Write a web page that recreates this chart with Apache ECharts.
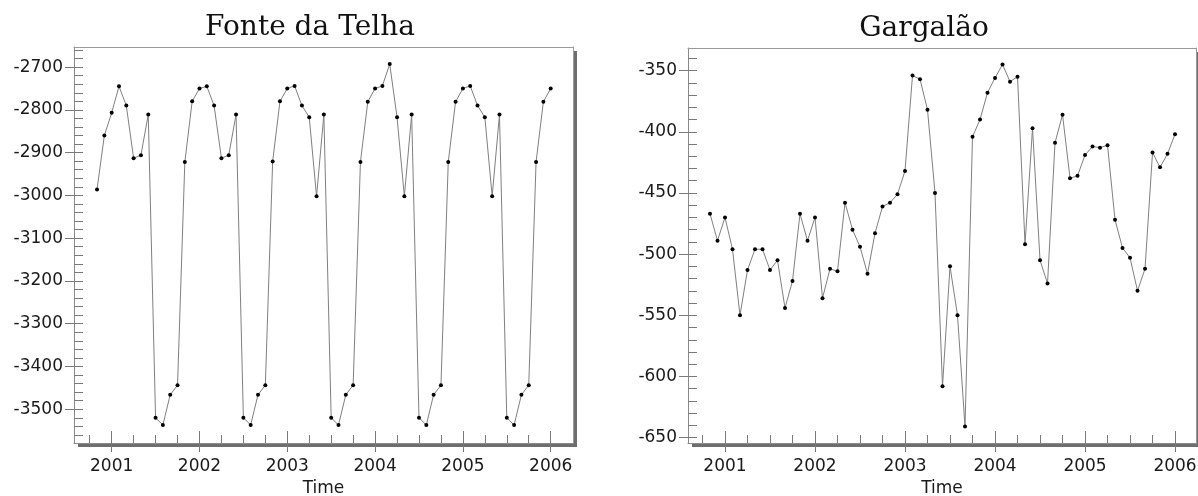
<!DOCTYPE html>
<html><head><meta charset="utf-8">
<script src="https://cdn.jsdelivr.net/npm/echarts@6/dist/echarts.min.js"></script>
<style>html,body{margin:0;padding:0;background:#fff}#c{width:1198px;height:496px}</style>
</head><body><div id="c"></div>
<script>
const months = [
  '2000-11','2000-12',
  '2001-01','2001-02','2001-03','2001-04','2001-05','2001-06','2001-07','2001-08','2001-09','2001-10','2001-11','2001-12',
  '2002-01','2002-02','2002-03','2002-04','2002-05','2002-06','2002-07','2002-08','2002-09','2002-10','2002-11','2002-12',
  '2003-01','2003-02','2003-03','2003-04','2003-05','2003-06','2003-07','2003-08','2003-09','2003-10','2003-11','2003-12',
  '2004-01','2004-02','2004-03','2004-04','2004-05','2004-06','2004-07','2004-08','2004-09','2004-10','2004-11','2004-12',
  '2005-01','2005-02','2005-03','2005-04','2005-05','2005-06','2005-07','2005-08','2005-09','2005-10','2005-11','2005-12',
  '2006-01'
];
const fonteTelha = [
  -2986,-2860,-2807,-2745,-2790,-2913,-2906,-2811,-3520,-3537,-3466,-3444,
  -2922,-2780,-2750,-2745,-2790,-2913,-2906,-2811,-3520,-3537,-3466,-3444,
  -2921,-2780,-2750,-2744,-2790,-2817,-3002,-2811,-3520,-3537,-3466,-3444,
  -2922,-2781,-2750,-2744,-2693,-2817,-3002,-2811,-3520,-3537,-3466,-3444,
  -2922,-2781,-2750,-2744,-2790,-2817,-3002,-2811,-3520,-3537,-3466,-3444,
  -2922,-2781,-2750
];
const gargalao = [
  -467,-489,-470,-496,-550,-513,-496,-496,-513,-505,-544,-522,
  -467,-489,-470,-536,-512,-514,-458,-480,-494,-516,-483,-461,
  -458,-451,-432,-354,-357,-382,-450,-608,-510,-550,-641,-404,
  -390,-368,-356,-345,-359,-355,-492,-397,-505,-524,-409,-386,
  -438,-436,-419,-412,-413,-411,-472,-495,-503,-530,-512,-417,
  -429,-418,-402
];
const yearTicks = [2001,2002,2003,2004,2005,2006];
const quarterTicks = [2000.75,2001.25,2001.5,2001.75,2002.25,2002.5,2002.75,2003.25,2003.5,2003.75,
  2004.25,2004.5,2004.75,2005.25,2005.5,2005.75];
const fonteYTicks = [-3500,-3400,-3300,-3200,-3100,-3000,-2900,-2800,-2700];
const gargalaoYTicks = [-650,-600,-550,-500,-450,-400,-350];
const fonteMinorStep = 20, gargalaoMinorStep = 10;

function toYear(s){ const p = s.split('-'); return +p[0] + (+p[1]-1)/12; }
function minorList(lo, hi, step){ const a=[]; for(let v=lo; v<=hi+1e-9; v+=step) a.push(v); return a; }

const LBL = {fontFamily:'DejaVu Sans', fontSize:17, color:'#1a1a1a'};
const AX = '#8a8a8a', TK = '#7a7a7a', FRAME = '#9a9a9a';

function frameAxis(g, min, max, pos){
  return {gridIndex:g, type:'value', min, max, position:pos,
    axisLine:{show:true,onZero:false,lineStyle:{color:FRAME,width:1}},
    axisTick:{show:false}, axisLabel:{show:false}, splitLine:{show:false}};
}
function xAxes(g, min, max){
  return [
    {gridIndex:g, type:'value', min, max, position:'bottom',
     axisLine:{show:true,onZero:false,lineStyle:{color:AX,width:1}},
     axisTick:{show:true,inside:false,length:9,customValues:yearTicks,lineStyle:{color:TK}},
     axisLabel:Object.assign({show:true,customValues:yearTicks,formatter:v=>String(v),margin:15},LBL),
     splitLine:{show:false},
     name:'Time', nameLocation:'middle', nameGap:37, nameTextStyle:Object.assign({},LBL)},
    {gridIndex:g, type:'value', min, max, position:'bottom',
     axisLine:{show:false}, axisTick:{show:true,inside:true,length:8,customValues:quarterTicks,lineStyle:{color:TK}},
     axisLabel:{show:false}, splitLine:{show:false}},
    {gridIndex:g, type:'value', min, max, position:'bottom',
     axisLine:{show:false}, axisTick:{show:true,inside:true,length:12,customValues:yearTicks,lineStyle:{color:TK}},
     axisLabel:{show:false}, splitLine:{show:false}},
    frameAxis(g, min, max, 'top')
  ];
}
function yAxes(g, min, max, ticks, minors){
  return [
    {gridIndex:g, type:'value', min, max, position:'left',
     axisLine:{show:true,onZero:false,lineStyle:{color:AX,width:1}},
     axisTick:{show:true,inside:false,length:9,customValues:ticks,lineStyle:{color:TK}},
     axisLabel:Object.assign({show:true,customValues:ticks,formatter:v=>String(v),margin:11},LBL),
     splitLine:{show:false}},
    {gridIndex:g, type:'value', min, max, position:'left',
     axisLine:{show:false}, axisTick:{show:true,inside:true,length:9,customValues:minors,lineStyle:{color:TK}},
     axisLabel:{show:false}, splitLine:{show:false}},
    frameAxis(g, min, max, 'right')
  ];
}

const gridStyle = {show:true, backgroundColor:'#fff', borderWidth:0, outerBoundsMode:'none', containLabel:false,
  shadowColor:'#6e6e6e', shadowOffsetX:4, shadowOffsetY:4, shadowBlur:0};

const xs = [].concat(xAxes(0, 2000.571, 2006.254), xAxes(1, 2000.589, 2006.233));
const ys = [].concat(
  yAxes(0, -3579, -2653, fonteYTicks, minorList(-3560, -2660, fonteMinorStep)),
  yAxes(1, -654.4, -331.5, gargalaoYTicks, minorList(-650, -340, gargalaoMinorStep)));

function series(data, xi, yi){
  return {type:'line', xAxisIndex:xi, yAxisIndex:yi,
    data: data.map((v,i)=>[toYear(months[i]), v]),
    symbol:'circle', symbolSize:4, showSymbol:true,
    lineStyle:{color:'#808080', width:1}, itemStyle:{color:'#000'},
    emphasis:{disabled:true}, silent:true, z:3};
}

const chart = echarts.init(document.getElementById('c'), null, {renderer:'canvas'});
chart.setOption({
  animation:false,
  backgroundColor:'#fff',
  grid:[
    Object.assign({left:74, top:47, width:499, height:396}, gridStyle),
    Object.assign({left:688, top:48, width:508, height:395}, gridStyle)
  ],
  xAxis: xs,
  yAxis: ys,
  series:[ series(fonteTelha, 0, 0), series(gargalao, 4, 3) ],
  graphic:[
    {type:'text', x:310, y:28, style:{text:'Fonte da Telha', fontFamily:'DejaVu Serif', fontSize:28, fill:'#111', align:'center', verticalAlign:'middle'}},
    {type:'text', x:924, y:29, style:{text:'Gargalão', fontFamily:'DejaVu Serif', fontSize:28, fill:'#111', align:'center', verticalAlign:'middle'}}
  ]
});
</script></body></html>
